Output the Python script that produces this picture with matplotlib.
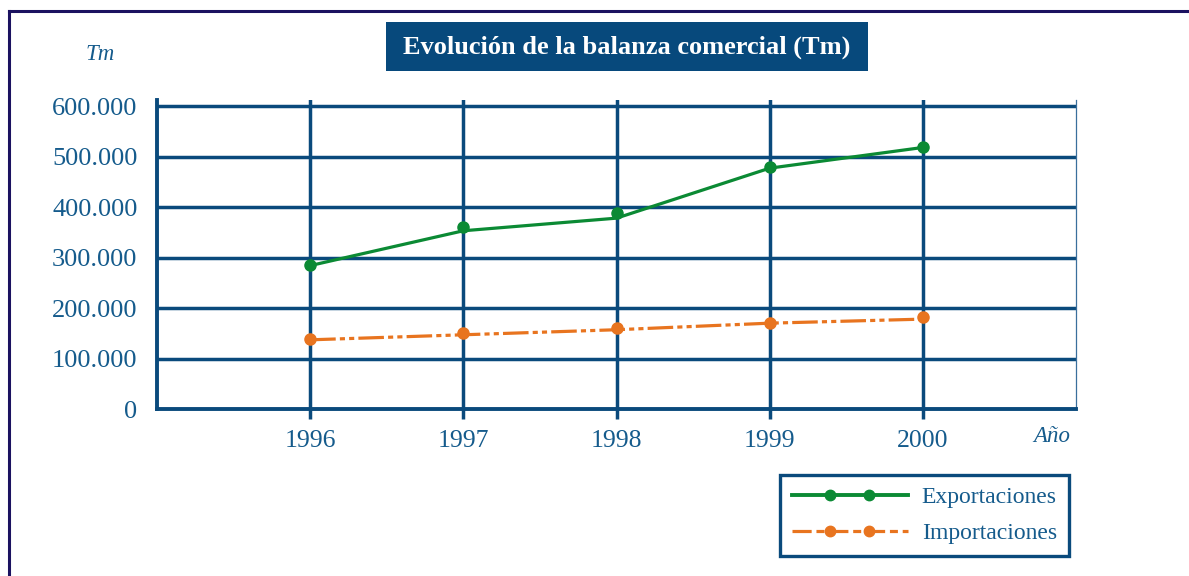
import matplotlib
matplotlib.use("Agg")
import matplotlib.pyplot as plt
from matplotlib.lines import Line2D
from matplotlib.patches import Rectangle
from matplotlib.ticker import FuncFormatter
from matplotlib.legend_handler import HandlerLine2D

# ---- data ----
years = [1996, 1997, 1998, 1999, 2000]
export_line = [284000, 353000, 378000, 477000, 518000]
export_pts = [286000, 361000, 388000, 479000, 518000]
import_line = [137000, 147000, 157000, 170000, 178000]
import_pts = [139000, 150000, 160000, 171000, 182000]
y_ticks = [0, 100000, 200000, 300000, 400000, 500000, 600000]
series_labels = ["Exportaciones", "Importaciones"]
title = "Evolución de la balanza comercial (Tm)"
y_unit = "Tm"
x_unit = "Año"

# ---- style ----
W, H = 1189, 576
NAVY = "#0a4a7c"
TXT = "#155b8c"
GREEN = "#0b8a34"
ORANGE = "#e8741f"
FRAME = "#1b1260"
plt.rcParams["font.family"] = ["Liberation Serif", "DejaVu Serif"]

fig = plt.figure(figsize=(W / 100, H / 100), dpi=100)

def fx(px):
    return px / W

def fy(py):
    return 1 - py / H

ax = fig.add_axes([fx(157), fy(409), fx(1076) - fx(157), fy(100) - fy(409)])
ax.set_xlim(1995, 2001)
ax.set_ylim(0, 612000)

# grid
for yv in y_ticks[1:]:
    ax.axhline(yv, color=NAVY, lw=2.5, zorder=1)
ax.set_xticks(years)
ax.set_xticklabels([str(y) for y in years])
ax.grid(axis="x", color=NAVY, lw=2.5, zorder=1)
ax.set_axisbelow(True)

# spines
ax.spines["top"].set_visible(False)
ax.spines["left"].set_color(NAVY)
ax.spines["left"].set_linewidth(2.8)
ax.spines["bottom"].set_color(NAVY)
ax.spines["bottom"].set_linewidth(2.8)
ax.spines["right"].set_color("#3a6f9c")
ax.spines["right"].set_linewidth(0.9)

ax.tick_params(axis="x", direction="out", length=7, width=2.5, color=NAVY,
               labelsize=18.5, labelcolor=TXT, pad=8)
ax.set_yticks(y_ticks)
ax.yaxis.set_major_formatter(FuncFormatter(lambda v, p: f"{int(v):,}".replace(",", ".")))
ax.tick_params(axis="y", which="major", length=0, labelsize=19, labelcolor=TXT, pad=14)
ax.set_yticks([0], minor=True)
ax.tick_params(axis="y", which="minor", length=9, width=2.8, color=NAVY)

dash = (0, (8, 1.3, 1.6, 1.3, 1.6, 1.3))

# series
ax.plot(years, export_line, color=GREEN, lw=2.3, zorder=3, solid_capstyle="butt")
ax.plot(years, export_pts, ls="none", marker="o", ms=8, color=GREEN, zorder=4)
ax.plot(years, import_line, color=ORANGE, lw=2.3, ls=dash, zorder=3, dash_capstyle="butt")
ax.plot(years, import_pts, ls="none", marker="o", ms=8, color=ORANGE, zorder=4)


class InnerMarkers(HandlerLine2D):
    def create_artists(self, legend, orig_handle, xdescent, ydescent,
                       width, height, fontsize, trans):
        arts = super().create_artists(legend, orig_handle, xdescent, ydescent,
                                      width, height, fontsize, trans)
        for a in arts:
            a.set_markevery([1, 2])
        return arts


# legend
h1 = Line2D([], [], color=GREEN, lw=2.8, marker="o", ms=7.5)
h2 = Line2D([], [], color=ORANGE, lw=2.3, ls=(0, (6, 1.5, 2.5, 1.5)), marker="o", ms=7.5)
leg = ax.legend([h1, h2], series_labels, loc="upper left",
                bbox_to_anchor=(fx(780), fy(475)), bbox_transform=fig.transFigure,
                borderaxespad=0, fontsize=17, handlelength=4.9, handletextpad=0.6,
                labelspacing=0.6, numpoints=4, fancybox=False, framealpha=1,
                edgecolor=NAVY, borderpad=0.5,
                handler_map={Line2D: InnerMarkers(marker_pad=0)})
leg.get_frame().set_linewidth(2.4)
for t in leg.get_texts():
    t.set_color(TXT)

# axis unit labels
fig.text(fx(100), fy(55), y_unit, style="italic", fontsize=16.5, color=TXT,
         ha="center", va="center")
fig.text(fx(1052), fy(437), x_unit, style="italic", fontsize=16.5, color=TXT,
         ha="center", va="center")

# title box
fig.patches.append(Rectangle((fx(386), fy(70.5)), fx(868) - fx(386), fy(22) - fy(70.5),
                             transform=fig.transFigure, facecolor="#07497c",
                             edgecolor="none", zorder=5))
fig.text(fx(627), fy(47), title, fontsize=19, fontweight="bold", color="white",
         ha="center", va="center", zorder=6)

# outer frame (top and left edges)
fig.lines.append(Line2D([fx(9), 1.0], [fy(11), fy(11)], transform=fig.transFigure,
                        color=FRAME, lw=2.2))
fig.lines.append(Line2D([fx(9), fx(9)], [fy(11), 0.0], transform=fig.transFigure,
                        color=FRAME, lw=2.2))

fig.savefig("out.png", dpi=100)
